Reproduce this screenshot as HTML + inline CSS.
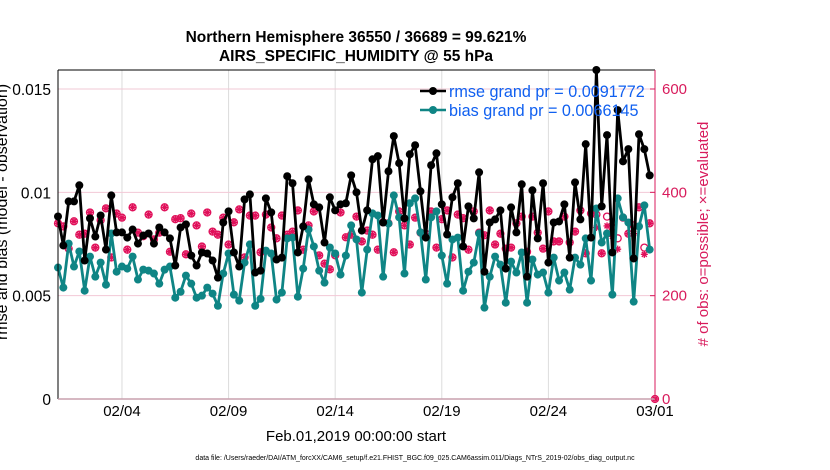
<!DOCTYPE html>
<html><head><meta charset="utf-8">
<style>
html,body{margin:0;padding:0;background:#fff;}
svg{display:block;font-family:"Liberation Sans",Arial,sans-serif;}
</style></head>
<body>
<svg id="chart" width="830" height="470" viewBox="0 0 830 470" xmlns="http://www.w3.org/2000/svg">
<text x="356" y="42" text-anchor="middle" font-size="15.5" font-weight="bold">Northern Hemisphere 36550 / 36689 = 99.621%</text>
<text x="356" y="61" text-anchor="middle" font-size="15.5" font-weight="bold">AIRS_SPECIFIC_HUMIDITY @ 55 hPa</text>
<g id="grid"></g>
<g id="marks"></g>
<g id="axes"></g>
<text transform="translate(7,212) rotate(-90)" text-anchor="middle" font-size="16">rmse and bias (model - observation)</text>
<text transform="translate(708,234) rotate(-90)" text-anchor="middle" font-size="15" fill="#d81b5c"># of obs: o=possible; ×=evaluated</text>
<text x="356" y="441" text-anchor="middle" font-size="15">Feb.01,2019 00:00:00 start</text>
<text x="415" y="460" text-anchor="middle" font-size="7">data file: /Users/raeder/DAI/ATM_forcXX/CAM6_setup/f.e21.FHIST_BGC.f09_025.CAM6assim.011/Diags_NTrS_2019-02/obs_diag_output.nc</text>
<g id="legend">
<line x1="420" y1="91" x2="446" y2="91" stroke="#000" stroke-width="2.5"/>
<circle cx="433" cy="91" r="4" fill="#000"/>
<text x="449" y="97" font-size="16.2" fill="#1060f0">rmse grand pr = 0.0091772</text>
<line x1="420" y1="110" x2="446" y2="110" stroke="#0f8585" stroke-width="2.5"/>
<circle cx="433" cy="110" r="4" fill="#0f8585"/>
<text x="449" y="116" font-size="16.2" fill="#1060f0">bias grand pr = 0.0066145</text>
</g>
</svg>
<script>
const rmse = [8.83,7.43,9.56,9.56,10.34,6.70,8.74,7.86,8.88,7.23,9.85,8.06,8.06,7.81,8.20,7.52,7.91,8.01,7.52,8.30,8.06,7.77,6.46,8.30,8.45,6.94,6.46,7.09,7.04,6.70,5.87,8.54,9.08,7.09,6.41,9.66,9.90,6.12,6.21,9.71,9.03,6.75,6.84,10.78,10.44,7.09,8.35,10.63,9.42,9.27,7.57,9.76,9.13,9.42,9.47,10.82,10.00,8.15,9.13,11.60,11.75,8.54,11.02,12.72,11.41,8.74,11.84,12.28,10.05,7.81,11.31,11.89,9.42,7.96,9.76,10.44,7.38,9.32,8.74,10.97,6.16,8.54,8.69,9.13,6.31,9.27,8.06,10.39,5.92,10.10,7.77,10.44,6.60,8.54,8.59,9.42,6.84,10.48,8.69,12.33,7.81,15.92,9.32,12.77,7.09,13.98,11.50,12.09,6.80,12.81,12.09,10.82];
const bias = [6.36,5.39,7.52,6.41,7.14,5.24,6.89,5.92,6.60,5.53,8.01,6.16,6.41,6.31,6.89,5.78,6.26,6.21,6.07,5.58,6.26,6.41,4.90,5.19,5.97,5.58,4.90,5.00,5.39,5.10,4.51,6.07,7.04,5.05,4.76,6.60,7.48,4.51,4.85,7.18,7.04,4.81,5.15,7.77,7.81,4.95,6.31,8.20,7.38,6.21,5.63,7.33,7.04,6.02,6.94,8.40,7.72,5.15,7.23,8.98,8.88,5.92,8.49,9.85,8.79,6.07,9.47,9.71,8.06,5.78,8.79,9.08,6.94,5.58,7.72,7.81,5.24,6.16,6.60,8.01,4.42,5.92,6.89,6.50,4.66,6.65,6.12,7.09,4.66,6.75,6.02,6.12,5.15,6.84,5.73,6.12,5.29,6.84,6.50,7.77,5.73,9.22,7.57,8.01,5.05,9.71,8.79,8.54,4.71,8.35,9.37,7.23];
const possible = [340,334,291,344,318,320,361,293,346,369,274,359,351,289,371,322,315,357,309,322,371,285,348,350,280,359,336,295,361,324,318,351,299,342,367,274,355,355,284,357,332,311,355,318,324,365,289,336,363,278,262,251,278,361,313,318,353,305,326,318,289,342,340,284,363,336,299,351,322,320,363,293,348,365,274,357,350,289,363,322,317,365,299,320,291,293,340,353,285,353,322,291,363,305,305,353,303,324,365,282,359,357,282,353,332,311,351,320,336,371,293,340,0];
const evaluated = [340,334,291,344,318,320,361,293,346,369,274,359,351,289,371,322,315,357,309,322,371,285,348,350,280,359,336,295,361,324,318,351,299,342,367,274,355,355,284,357,332,311,355,318,324,365,289,336,363,278,262,251,278,361,313,318,353,305,326,318,289,342,340,284,363,336,299,351,322,320,363,293,348,365,274,357,350,289,363,322,317,365,299,320,291,293,340,353,285,353,322,291,363,305,305,353,303,324,365,282,359,332,282,335,315,290,351,320,320,371,280,340,0];
const leftTicks = [0, 0.005, 0.01, 0.015];
const leftTickLabels = ["0","0.005","0.01","0.015"];
const rightTicks = [0,200,400,600];
const xTickDays = [3,8,13,18,23,28];
const xTickLabels = ["02/04","02/09","02/14","02/19","02/24","03/01"];

const NS="http://www.w3.org/2000/svg";
const L=58,R=655,T=70,B=399;
const x = d => L + d*(R-L)/28;
const yL = v => B - v*(B-89)/0.015;
const yR = c => B - c*(B-89)/600;
function mk(tag,attrs,parent){const e=document.createElementNS(NS,tag);for(const k in attrs)e.setAttribute(k,attrs[k]);parent.appendChild(e);return e;}
const grid=document.getElementById('grid'),marks=document.getElementById('marks'),axes=document.getElementById('axes');

xTickDays.forEach((d,i)=>{
  const g=mk('line',{x1:x(d),x2:x(d),y1:T,y2:B,stroke:'#dcdcdc','stroke-width':1},grid);
  
  
  const t=mk('text',{x:x(d),y:416,'text-anchor':'middle','font-size':15},axes);
  t.textContent=xTickLabels[i];
  
  
});
rightTicks.forEach(c=>{
  const g=mk('line',{x1:L,x2:R,y1:yR(c),y2:yR(c),stroke:'#f2c8d6','stroke-width':1},grid);
  
  
  const t=mk('text',{x:662,y:yR(c)+5,'font-size':15,fill:'#d81b5c'},axes);
  t.textContent=String(c);
  
  
  mk('line',{x1:R-5,x2:R,y1:yR(c),y2:yR(c),stroke:'#d81b5c'},axes);
});
leftTicks.forEach((v,i)=>{
  const t=mk('text',{x:51,y:yL(v)+6,'text-anchor':'end','font-size':15.5},axes);
  t.textContent=leftTickLabels[i];
  
  
});
let a;
a=mk('line',{x1:L,x2:L,y1:T,y2:B,stroke:'#000'},axes);


a=mk('line',{x1:L,x2:R,y1:T,y2:T,stroke:'#000'},axes);


a=mk('line',{x1:L,x2:R,y1:B,y2:B,stroke:'#c8a0ae','stroke-width':1.5},axes);


a=mk('line',{x1:R,x2:R,y1:T,y2:B,stroke:'#d81b5c'},axes);



possible.forEach((c,i)=>{
  const cx=x(i/4),cy=yR(c);
  const m=mk('circle',{cx:cx,cy:cy,r:3.5,fill:'none',stroke:'#e0105a','stroke-width':1.3},marks);
  
  
});
evaluated.forEach((c,i)=>{
  const cx=x(i/4),cy=yR(c),s=3.5;
  const g=mk('path',{d:`M${cx-s} ${cy}H${cx+s}M${cx} ${cy-s}V${cy+s}M${cx-2.5} ${cy-2.5}L${cx+2.5} ${cy+2.5}M${cx-2.5} ${cy+2.5}L${cx+2.5} ${cy-2.5}`,stroke:'#e0105a','stroke-width':1.4},marks);
  
  
});
function series(arr,color,name){
  const pts=arr.map((v,i)=>x(i/4).toFixed(1)+','+yL(v/1000).toFixed(1)).join(' ');
  const p=mk('polyline',{points:pts,fill:'none',stroke:color,'stroke-width':2.8,'stroke-linejoin':'round'},marks);
  
  
  arr.forEach((v,i)=>{
    const c=mk('circle',{cx:x(i/4),cy:yL(v/1000),r:4,fill:color},marks);
    
    
  });
}
series(bias,'#0f8585','bias');
series(rmse,'#000000','rmse');
</script>
</body></html>
